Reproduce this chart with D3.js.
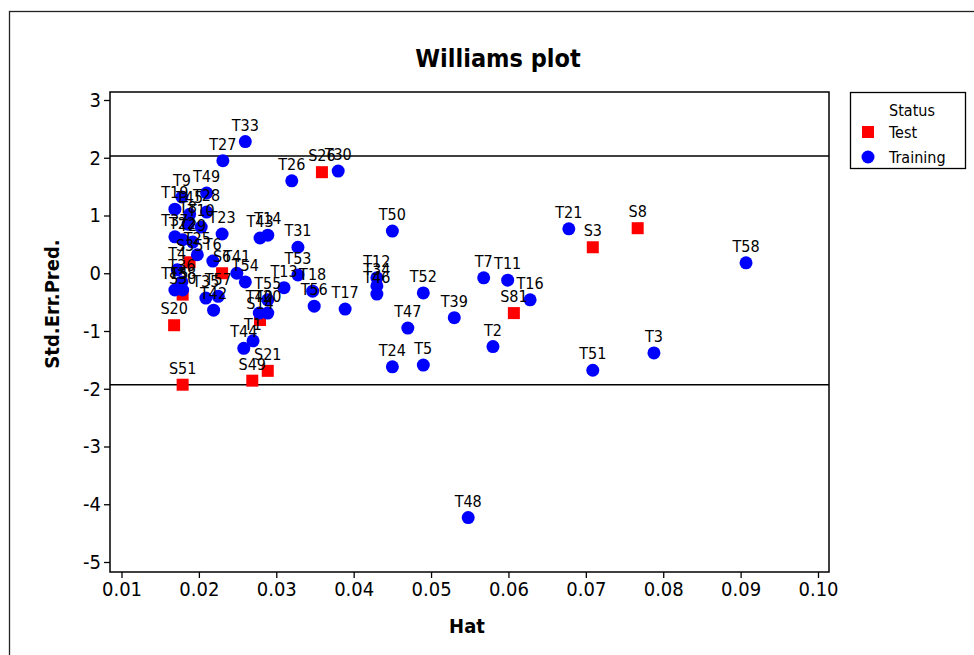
<!DOCTYPE html>
<html>
<head>
<meta charset="utf-8">
<script src="https://cdn.jsdelivr.net/npm/d3@7/dist/d3.min.js"></script>
<style>
  html, body { margin: 0; padding: 0; background: #fff; }
  svg { display: block; }
  text { font-family: "DejaVu Sans Condensed", "DejaVu Sans", sans-serif; fill: #000; }
</style>
</head>
<body>
<svg id="chart" width="974" height="655"></svg>
<script>
// Williams plot: leverage (Hat) vs standardized prediction error
const testNames = ["S26", "S3", "S8", "S81", "S35", "S6", "S30", "S14", "S20", "S51", "S49", "S21"];
const testHat   = [0.0359, 0.0709, 0.0767, 0.0607, 0.0188, 0.0230, 0.0179, 0.0279, 0.0168, 0.0179, 0.0269, 0.0289];
const testErr   = [1.75, 0.45, 0.78, -0.69, 0.19, 0.00, -0.37, -0.81, -0.90, -1.93, -1.86, -1.69];

const trainNames = ["T33", "T27", "T26", "T30", "T49", "T9", "T19", "T45", "T28", "T8", "T10",
  "T37", "T22", "T29", "T23", "T25", "T6", "T41", "T54", "T4", "T36", "T15", "T38",
  "T35", "T57", "T42", "T43", "T14", "T31", "T53", "T13", "T18", "T56", "T55", "T20",
  "T40", "T1", "T44", "T17", "T12", "T34", "T46", "T50", "T52", "T47", "T39", "T7",
  "T11", "T16", "T2", "T24", "T5", "T21", "T58", "T3", "T51", "T48"];
const trainHat = [0.0260, 0.0231, 0.0320, 0.0380, 0.0210, 0.0178, 0.0169, 0.0188, 0.0210, 0.0186, 0.0203,
  0.0169, 0.0179, 0.0192, 0.0230, 0.0198, 0.0218, 0.0249, 0.0260, 0.0172, 0.0178, 0.0169, 0.0179,
  0.0209, 0.0225, 0.0219, 0.0279, 0.0289, 0.0328, 0.0328, 0.0310, 0.0347, 0.0349, 0.0289, 0.0289,
  0.0278, 0.0270, 0.0258, 0.0389, 0.0430, 0.0430, 0.0430, 0.0450, 0.0490, 0.0470, 0.0530, 0.0568,
  0.0599, 0.0628, 0.0580, 0.0450, 0.0490, 0.0678, 0.0907, 0.0788, 0.0709, 0.0548];
const trainErr = [2.28, 1.95, 1.60, 1.77, 1.39, 1.32, 1.11, 1.02, 1.06, 0.85, 0.80,
  0.63, 0.58, 0.54, 0.68, 0.32, 0.21, 0.00, -0.15, 0.06, -0.15, -0.29, -0.29,
  -0.43, -0.40, -0.64, 0.61, 0.66, 0.45, -0.03, -0.25, -0.31, -0.57, -0.46, -0.69,
  -0.69, -1.17, -1.30, -0.62, -0.08, -0.22, -0.36, 0.73, -0.34, -0.95, -0.77, -0.08,
  -0.12, -0.46, -1.27, -1.62, -1.59, 0.77, 0.18, -1.38, -1.68, -4.23];

const xTicks = [0.01, 0.02, 0.03, 0.04, 0.05, 0.06, 0.07, 0.08, 0.09, 0.10];
const yTicks = [3, 2, 1, 0, -1, -2, -3, -4, -5];
const refLines = [2.03, -1.93];
const groups = ["Test", "Training"];

const svg = d3.select("#chart");

// outer figure border
svg.append("rect")
  .attr("x", 9.5).attr("y", 11.5).attr("width", 980).attr("height", 660)
  .attr("fill", "none").attr("stroke", "#222").attr("stroke-width", 1.3);

const frame = { left: 110, right: 829, top: 92, bottom: 572 };

const x = d3.scaleLinear().domain([0.01, 0.10]).range([121.5, 818]);
const y = d3.scaleLinear().domain([3, -5]).range([100, 562]);

// title
svg.append("text")
  .attr("x", 498).attr("y", 67)
  .attr("text-anchor", "middle")
  .attr("font-size", 25).attr("font-weight", "bold")
  .text("Williams plot");

// axes
const xAxis = d3.axisBottom(x).tickValues(xTicks).tickFormat(d3.format(".2f")).tickSize(6).tickPadding(4);
const yAxis = d3.axisLeft(y).tickValues(yTicks).tickFormat(d => d < 0 ? "-" + Math.abs(d) : d).tickSize(6).tickPadding(3);

const gx = svg.append("g").attr("transform", `translate(0,${frame.bottom})`).call(xAxis);
const gy = svg.append("g").attr("transform", `translate(${frame.left},0)`).call(yAxis);
[gx, gy].forEach(g => {
  g.select(".domain").remove();
  g.selectAll(".tick line").attr("stroke", "#000").attr("stroke-width", 1.3);
  g.selectAll(".tick text").attr("font-size", 20)
    .style("font-family", '"DejaVu Sans Condensed", "DejaVu Sans", sans-serif');
});

// plot frame
svg.append("rect")
  .attr("x", frame.left).attr("y", frame.top)
  .attr("width", frame.right - frame.left).attr("height", frame.bottom - frame.top)
  .attr("fill", "none").attr("stroke", "#000").attr("stroke-width", 1.5);

// axis titles
svg.append("text")
  .attr("x", 467).attr("y", 633)
  .attr("text-anchor", "middle")
  .attr("font-size", 20).attr("font-weight", "bold")
  .text("Hat");
svg.append("text")
  .attr("transform", "translate(59,304) rotate(-90)")
  .attr("text-anchor", "middle")
  .attr("font-size", 20).attr("font-weight", "bold")
  .text("Std.Err.Pred.");

// reference lines
svg.selectAll("line.ref").data(refLines).enter().append("line")
  .attr("class", "ref")
  .attr("x1", frame.left).attr("x2", frame.right)
  .attr("y1", d => y(d)).attr("y2", d => y(d))
  .attr("stroke", "#000").attr("stroke-width", 1.5);

const testData = testNames.map((n, i) => ({ name: n, hat: testHat[i], err: testErr[i] }));
const trainData = trainNames.map((n, i) => ({ name: n, hat: trainHat[i], err: trainErr[i] }));

const sq = 12, r = 6.5;

// test points (red squares)
svg.append("g").selectAll("rect").data(testData).enter().append("rect")
  .attr("x", d => x(d.hat) - sq / 2).attr("y", d => y(d.err) - sq / 2)
  .attr("width", sq).attr("height", sq)
  .attr("fill", "#ff0000");

// training points (blue circles)
svg.append("g").selectAll("circle").data(trainData).enter().append("circle")
  .attr("cx", d => x(d.hat)).attr("cy", d => y(d.err)).attr("r", r)
  .attr("fill", "#0000ff");

// point labels
svg.append("g").selectAll("text").data(testData.concat(trainData)).enter().append("text")
  .attr("x", d => x(d.hat)).attr("y", d => y(d.err) - 11)
  .attr("text-anchor", "middle")
  .attr("font-size", 16)
  .text(d => d.name);

// legend
const lg = svg.append("g");
lg.append("rect")
  .attr("x", 850.5).attr("y", 92.5).attr("width", 115).attr("height", 76)
  .attr("fill", "#fff").attr("stroke", "#000").attr("stroke-width", 1.3);
lg.append("text").attr("x", 912).attr("y", 116).attr("text-anchor", "middle")
  .attr("font-size", 16).text("Status");
groups.forEach((gname, i) => {
  const cy = 132 + i * 25;
  if (gname === "Test") {
    lg.append("rect").attr("x", 868 - 6).attr("y", cy - 6).attr("width", 12).attr("height", 12).attr("fill", "#ff0000");
  } else {
    lg.append("circle").attr("cx", 868).attr("cy", cy).attr("r", 6.5).attr("fill", "#0000ff");
  }
  lg.append("text").attr("x", 889).attr("y", cy + 6).attr("font-size", 16).text(gname);
});
</script>
</body>
</html>
